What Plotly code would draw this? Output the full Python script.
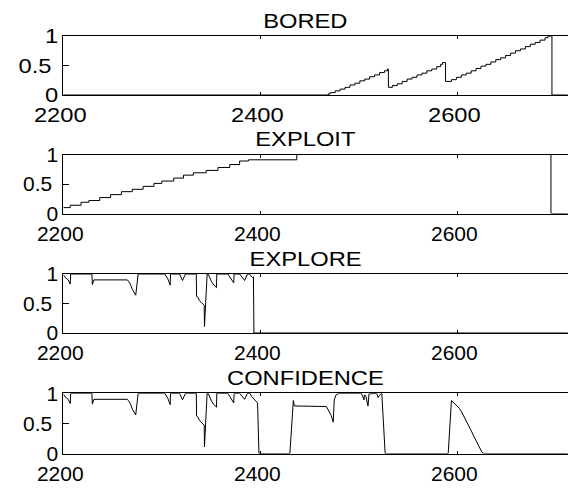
import plotly.graph_objects as go

# ---- data -------------------------------------------------------------
tick_x = [2200, 2400, 2600]
tick_y = [0, 0.5, 1]
tick_y_text = ["0", "0.5\u00a0", "1"]
panel_titles = ["BORED", "EXPLOIT", "EXPLORE", "CONFIDENCE"]

# BORED: staircase level (value holds from each time to the next)
bored_t = [2200, 2469, 2471, 2476, 2481, 2486, 2491, 2496, 2501, 2506, 2511,
           2516, 2521, 2526, 2529, 2530, 2534, 2539, 2544, 2549, 2554, 2559,
           2564, 2569, 2574, 2579, 2583, 2585, 2588, 2594, 2599, 2604, 2609,
           2614, 2619, 2624, 2629, 2634, 2639, 2644, 2649, 2654, 2659, 2664,
           2669, 2674, 2679, 2684, 2689, 2692, 2696, 2712]
bored_v = [0.0, 0.02, 0.04, 0.07, 0.10, 0.13, 0.17, 0.20, 0.24, 0.27, 0.31,
           0.34, 0.38, 0.41, 0.44, 0.13, 0.16, 0.19, 0.23, 0.27, 0.30, 0.34,
           0.37, 0.41, 0.44, 0.48, 0.52, 0.55, 0.23, 0.26, 0.30, 0.34, 0.37,
           0.41, 0.45, 0.49, 0.52, 0.56, 0.60, 0.63, 0.67, 0.71, 0.75, 0.78,
           0.82, 0.86, 0.89, 0.93, 0.97, 1.0, 0.0, 0.0]

# EXPLOIT: staircase level
exploit_t = [2200, 2207, 2218, 2226, 2237, 2248, 2259, 2270, 2281, 2292, 2300,
             2312, 2322, 2332, 2345, 2357, 2369, 2379, 2388, 2437, 2695, 2712]
exploit_v = [0.10, 0.14, 0.19, 0.22, 0.27, 0.32, 0.37, 0.41, 0.46, 0.51, 0.55,
             0.60, 0.65, 0.69, 0.73, 0.78, 0.83, 0.89, 0.91, 1.0, 0.0, 0.0]

# EXPLORE: sampled trace
explore_t = [2200, 2201, 2202, 2205, 2207, 2207.5,
             2229, 2229.5, 2231, 2265, 2266, 2268, 2270, 2272, 2273.5, 2276,
             2303, 2306, 2308.5, 2308.8,
             2318, 2321, 2324,
             2335, 2335.3, 2337, 2338, 2340, 2342, 2343, 2343.3, 2346,
             2347, 2350.5, 2353, 2355.5, 2355.8,
             2367, 2373, 2373.4,
             2379, 2384, 2387, 2389, 2392, 2393, 2393.5, 2712]
explore_v = [0.98, 0.97, 0.94, 0.90, 0.83, 1.0,
             1.0, 0.82, 0.90, 0.90, 0.88, 0.83, 0.74, 0.68, 0.64, 1.0,
             1.0, 0.92, 0.81, 1.0,
             1.0, 0.89, 1.0,
             1.0, 0.62, 0.60, 0.55, 0.52, 0.48, 0.47, 0.11, 1.0,
             1.0, 0.87, 0.81, 0.77, 1.0,
             1.0, 0.85, 1.0,
             1.0, 0.89, 1.0, 1.0, 0.94, 0.95, 0.0, 0.0]

# CONFIDENCE: sampled trace
confidence_t = [2200, 2201, 2202, 2205, 2207, 2207.5,
                2229, 2229.5, 2231, 2265, 2266, 2268, 2270, 2272, 2273.5, 2276,
                2303, 2306, 2308.5, 2308.8,
                2318, 2321, 2324,
                2335, 2335.3, 2337, 2338, 2340, 2342, 2343, 2343.3, 2346,
                2347, 2350.5, 2353, 2355.5, 2355.8,
                2367, 2373, 2373.4,
                2379, 2384, 2387, 2389.5, 2391, 2393, 2395.5, 2397.2, 2398.6,
                2430, 2433.5, 2434.5, 2467, 2468.5, 2470, 2472, 2474, 2474.2,
                2475, 2476.7, 2480,
                2502.6, 2505.3, 2505.6, 2507, 2509.3, 2510.3,
                2518, 2519.6, 2521, 2523.3, 2526.7,
                2590.7, 2594, 2596, 2598, 2600, 2602, 2604, 2606, 2608, 2610,
                2612, 2614, 2616, 2618, 2620, 2622, 2624, 2625, 2627, 2712]
confidence_v = [0.98, 0.97, 0.94, 0.90, 0.83, 1.0,
                1.0, 0.82, 0.90, 0.90, 0.88, 0.83, 0.74, 0.68, 0.64, 1.0,
                1.0, 0.92, 0.81, 1.0,
                1.0, 0.89, 1.0,
                1.0, 0.62, 0.60, 0.55, 0.52, 0.48, 0.47, 0.11, 1.0,
                1.0, 0.87, 0.81, 0.77, 1.0,
                1.0, 0.84, 1.0,
                1.0, 0.90, 1.0, 1.0, 0.95, 0.92, 0.88, 0.84, 0.0,
                0.0, 0.88, 0.79, 0.78, 0.73, 0.67, 0.63, 0.52, 0.75,
                0.89, 0.97, 1.0,
                1.0, 0.89, 0.97, 0.96, 0.79, 0.99,
                1.0, 0.93, 0.97, 1.0, 0.0,
                0.0, 0.88, 0.85, 0.82, 0.79, 0.75, 0.70, 0.64, 0.58, 0.52,
                0.45, 0.38, 0.31, 0.24, 0.17, 0.10, 0.05, 0.02, 0.0, 0.0]

series = [
    (bored_t, bored_v, "hv"),
    (exploit_t, exploit_v, "hv"),
    (explore_t, explore_v, "linear"),
    (confidence_t, confidence_v, "linear"),
]

# ---- layout ------------------------------------------------------------
W, H = 568, 491
FONT = "Liberation Sans, Arial, Helvetica, sans-serif"
FONT_SIZE = 21
TEXT_STRETCH = 1.13   # horizontal widening of all labels
tops = [36, 154.5, 274, 393.3]
bottoms = [95, 213.5, 333, 453.5]
x_left = 63.3
x_range = [2200, 2712.3]
title_x = 306

fig = go.Figure()
annotations = []
for i, ((t, v, shape), title) in enumerate(zip(series, panel_titles)):
    n = i + 1
    xa = "x" if n == 1 else f"x{n}"
    ya = "y" if n == 1 else f"y{n}"
    fig.add_trace(go.Scatter(
        x=t, y=v, mode="lines", line=dict(color="black", width=1, shape=shape),
        xaxis=xa, yaxis=ya, showlegend=False, hoverinfo="skip",
    ))
    dom_y = [1 - bottoms[i] / H, 1 - tops[i] / H]
    fig.layout[f"xaxis{'' if n == 1 else n}"] = dict(
        domain=[x_left / W, 1], range=x_range, anchor=ya,
        showline=True, linecolor="black", linewidth=1, mirror="ticks",
        ticks="inside", ticklen=3, tickcolor="black",
        tickvals=tick_x, ticktext=[str(v) for v in tick_x],
        tickfont=dict(family=FONT, size=FONT_SIZE, color="black"),
        ticklabelstandoff=1, ticklabelshift=-3,
        showgrid=False, zeroline=False, fixedrange=True,
    )
    fig.layout[f"yaxis{'' if n == 1 else n}"] = dict(
        domain=dom_y, range=[0, 1], anchor=xa,
        showline=True, linecolor="black", linewidth=1, mirror=False,
        ticks="inside", ticklen=6, tickcolor="black",
        tickvals=tick_y, ticktext=tick_y_text,
        tickfont=dict(family=FONT, size=FONT_SIZE, color="black"),
        ticklabelstandoff=0,
        showgrid=False, zeroline=False, fixedrange=True,
    )
    annotations.append(dict(
        text=title, xref="paper", yref="paper",
        x=title_x / W, y=1 - (tops[i] - 2.5) / H,
        xanchor="center", yanchor="bottom", showarrow=False,
        font=dict(family=FONT, size=FONT_SIZE, color="black"),
    ))

fig.update_layout(
    width=W, height=H,
    margin=dict(l=0, r=0, t=0, b=0, autoexpand=False),
    paper_bgcolor="white", plot_bgcolor="white",
    annotations=annotations,
)

# page without body margin; labels widened about their anchor point
post_js = """
document.body.style.margin = '0';
var gd = document.getElementById('{plot_id}');
var s = %s;
gd.querySelectorAll('g.xtick text, g.ytick text, text.annotation-text').forEach(function (el) {
  var b = el.getBBox();
  var a = el.getAttribute('text-anchor') || 'start';
  var ax = a === 'end' ? b.x + b.width : (a === 'middle' ? b.x + b.width / 2 : b.x);
  var tr = el.getAttribute('transform') || '';
  el.setAttribute('transform', tr + ' translate(' + ax + ',0) scale(' + s + ',1) translate(' + (-ax) + ',0)');
});
""" % TEXT_STRETCH

fig.write_html("out.html", config={"displayModeBar": False}, post_script=post_js)
